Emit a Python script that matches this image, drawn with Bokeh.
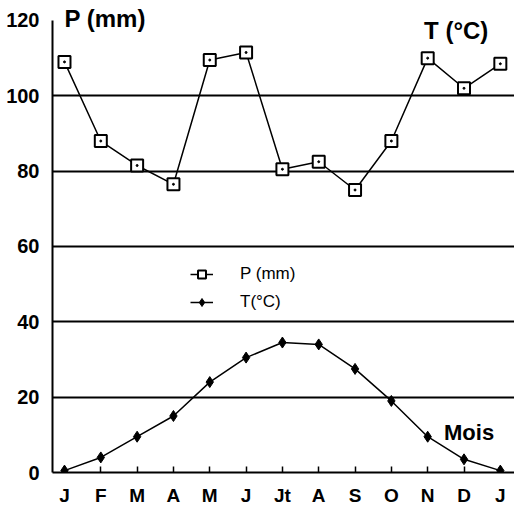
from bokeh.plotting import figure
from bokeh.models import FixedTicker, Legend, LegendItem, Label, Range1d
from bokeh.embed import file_html
from bokeh.resources import INLINE

months = ["J", "F", "M", "A", "M", "J", "Jt", "A", "S", "O", "N", "D", "J"]
precip = [109, 88, 81.5, 76.5, 109.5, 111.5, 80.5, 82.5, 75, 88, 110, 102, 108.5]
temp = [0.5, 4, 9.5, 15, 24, 30.5, 34.5, 34, 27.5, 19, 9.5, 3.5, 0.5]
y_ticks = [0, 20, 40, 60, 80, 100, 120]
grid_ticks = [20, 40, 60, 80, 100]

xs = list(range(len(months)))
FONT = "Liberation Sans"

p = figure(width=514, height=510, output_backend="svg", toolbar_location=None,
           x_range=Range1d(-0.33, 12.39), y_range=Range1d(0, 125.3),
           min_border_left=52, min_border_right=0, min_border_top=0, min_border_bottom=38)
p.outline_line_color = None
p.background_fill_color = "white"

# axes
p.xaxis.ticker = FixedTicker(ticks=xs)
p.xaxis.major_label_overrides = {i: m for i, m in enumerate(months)}
p.xaxis.major_tick_in = 6
p.xaxis.major_tick_out = 0
p.xaxis.minor_tick_line_color = None
p.xaxis.axis_line_width = 2
p.xaxis.axis_line_color = "black"
p.xaxis.major_tick_line_width = 1.5
p.xaxis.major_tick_line_color = "black"
p.xaxis.major_label_text_font = FONT
p.xaxis.major_label_text_font_style = "bold"
p.xaxis.major_label_text_font_size = "19px"
p.xaxis.major_label_text_color = "black"
p.xaxis.major_label_standoff = 12

p.yaxis.ticker = FixedTicker(ticks=y_ticks)
p.yaxis.bounds = (0, 120)
p.yaxis.major_tick_in = 0
p.yaxis.major_tick_out = 0
p.yaxis.minor_tick_line_color = None
p.yaxis.axis_line_width = 2
p.yaxis.axis_line_color = "black"
p.yaxis.major_label_text_font = FONT
p.yaxis.major_label_text_font_style = "bold"
p.yaxis.major_label_text_font_size = "20px"
p.yaxis.major_label_text_color = "black"
p.yaxis.major_label_standoff = 13

p.xgrid.grid_line_color = None
p.ygrid.ticker = FixedTicker(ticks=grid_ticks)
p.ygrid.grid_line_color = "black"
p.ygrid.grid_line_width = 2

# series
pl = p.line(xs, precip, line_color="black", line_width=1.5)
ps = p.scatter(xs, precip, marker="square", size=12, fill_color="white",
               line_color="black", line_width=2)
pd = p.scatter(xs, precip, marker="circle", size=2, fill_color="black", line_color="black")
tl = p.line(xs, temp, line_color="black", line_width=1.5)
ts = p.scatter(xs, temp, marker="diamond", size=11, fill_color="black", line_color="black")

legend = Legend(items=[LegendItem(label="P (mm)", renderers=[pl, ps]),
                       LegendItem(label="T(°C)", renderers=[tl, ts])],
                location=(138, 160), padding=0, margin=0, spacing=8,
                glyph_width=23, glyph_height=20, label_standoff=27,
                label_text_font=FONT, label_text_font_size="17px",
                label_text_color="black", border_line_color=None,
                background_fill_alpha=0)
p.add_layout(legend)

p.add_layout(Label(x=0, y=120.5, text="P (mm)", text_font=FONT, text_font_style="bold",
                   text_font_size="24px", text_baseline="middle", text_color="black"))
p.add_layout(Label(x=9.9, y=117.4, text="T (°C)", text_font=FONT, text_font_style="bold",
                   text_font_size="24px", text_baseline="middle", text_color="black"))
p.add_layout(Label(x=10.45, y=10.6, text="Mois", text_font=FONT, text_font_style="bold",
                   text_font_size="22px", text_baseline="middle", text_color="black"))

open("out.html", "w").write(file_html(p, INLINE))
